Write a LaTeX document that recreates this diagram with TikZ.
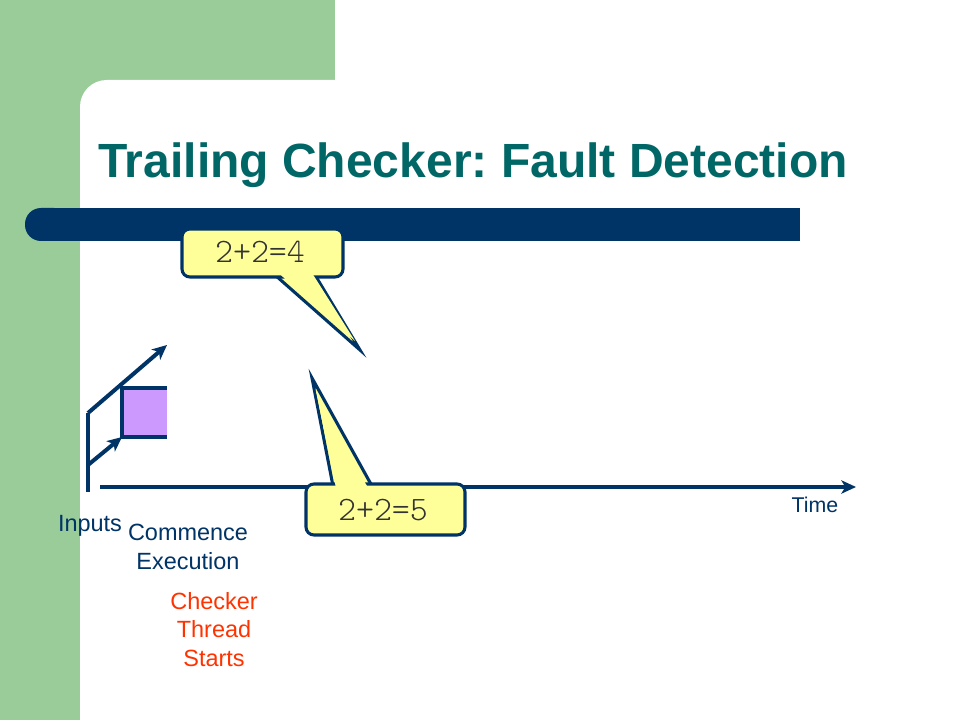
\documentclass[tikz,border=0pt]{standalone}
\usepackage{fontspec}
\setmainfont{Liberation Sans}
\newfontfamily\bubfont{Latin Modern Mono Light}
\usetikzlibrary{arrows.meta}
\definecolor{bggreen}{HTML}{99CC99}
\definecolor{navy}{HTML}{003366}
\definecolor{titlecol}{HTML}{006666}
\definecolor{redo}{HTML}{FF3300}
\definecolor{purp}{HTML}{CC99FF}
\definecolor{yel}{HTML}{FFFF99}
\definecolor{mtext}{HTML}{333333}
\frenchspacing
\tikzset{
  conn/.style={draw=navy, line width=3pt},
  arr/.style={conn, -{Stealth[length=11pt,width=10pt,inset=3pt]}},
  lbl/.style={inner sep=0pt, font=\fontsize{17.6pt}{21.5pt}\selectfont, align=center},
  bubble/.style={fill=yel, draw=navy, line width=2.3pt, rounded corners=6pt},
  bubtext/.style={inner sep=0pt, text=mtext, font=\bubfont\fontsize{25.7pt}{28pt}\selectfont},
}
\begin{document}
\begin{tikzpicture}[x=0.75pt,y=-0.75pt]
\useasboundingbox (0,0) rectangle (960,720);
% background
\fill[bggreen] (0,0) rectangle (335,720);
\fill[white, rounded corners=20pt] (80,80) rectangle (1010,770);
% title bar
\fill[navy, rounded corners=12pt] (25,208) rectangle (70,241);
\fill[navy] (45,208) rectangle (800,241);
% title
\node[anchor=base west, inner sep=0pt, text=titlecol, font=\bfseries\fontsize{36pt}{40pt}\selectfont] (title) at (98,178) {Trailing Checker: Fault Detection};
% time axis
\coordinate (t0) at (100,487);
\coordinate (t1) at (856,487);
\draw[arr] (t0) -- (t1);
% inputs
\coordinate (ib) at (88,492);
\coordinate (it) at (88,413);
\coordinate (im) at (88,465);
\coordinate (up) at (167,345);
\coordinate (lo) at (122,437);
% purple box
\fill[purp] (122,388) rectangle (167,437);
\draw[conn] (167,388) -- (122,388) -- (122,437) -- (167,437);
\draw[conn] (ib) -- (it);
\draw[arr] (it) -- (up);
\draw[arr] (im) -- (lo);
% bubble 1
\draw[fill=yel, draw=navy, line width=2.3pt, line join=miter] (275,275) -- (360,350) -- (315,275);
\draw[bubble] (182,229) rectangle (343,277);
\fill[yel] (278.5,273) -- (355,341) -- (312,273) -- cycle;
\node[bubtext, anchor=base] (b1) at (260,263) {2+2=4};
% bubble 2
\draw[fill=yel, draw=navy, line width=2.3pt, line join=miter] (333,486) -- (312,378) -- (372,486);
\draw[bubble] (306,484) rectangle (465,535);
\fill[yel] (336,488) -- (315.5,389) -- (368,488) -- cycle;
\node[bubtext, anchor=base] (b2) at (383,520) {2+2=5};
% labels
\node[lbl, text=navy, anchor=base] (inputs) at (90,531) {Inputs};
\node[lbl, text=navy, anchor=north] (comm) at (188,524) {Commence\\Execution};
\node[lbl, text=redo, anchor=north] (check) at (214,592) {Checker\\Thread\\Starts};
\node[lbl, text=navy, anchor=base, font=\fontsize{16pt}{19pt}\selectfont] (time) at (815,512) {Time};
\end{tikzpicture}
\end{document}
